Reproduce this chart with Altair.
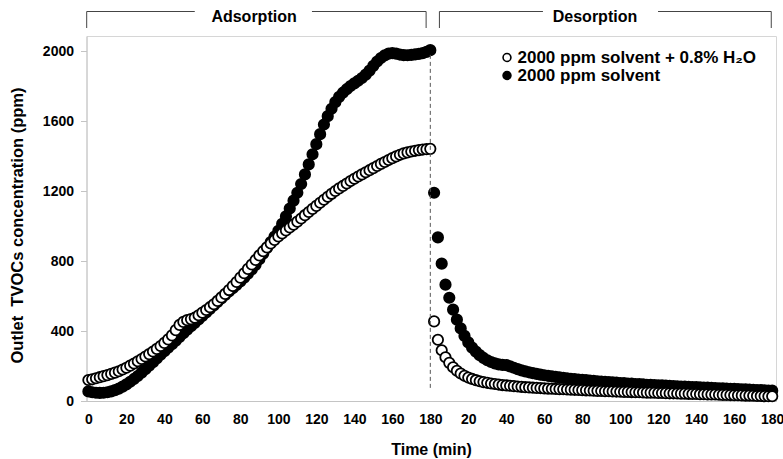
import altair as alt
import pandas as pd

# ---- data (ppm), sampled every 2 min ----
ads_time = list(range(0, 181, 2))      # adsorption 0..180 min
des_time = list(range(182, 361, 2))    # desorption (plotted after 180)

wet_ads = [120, 124, 130, 136, 142, 148, 155, 162, 170, 180,
           190, 202, 214, 227, 240, 254, 268, 283, 298, 314,
           332, 352, 375, 405, 435, 452, 462, 468, 476, 490,
           505, 520, 536, 553, 572, 592, 612, 634, 657, 680,
           705, 730, 755, 780, 806, 832, 856, 878, 900, 920,
           940, 958, 975, 992, 1008, 1025, 1043, 1062, 1080, 1098,
           1115, 1133, 1150, 1167, 1184, 1200, 1215, 1229, 1243, 1257,
           1270, 1283, 1295, 1307, 1319, 1331, 1343, 1355, 1366, 1377,
           1388, 1398, 1407, 1415, 1421, 1426, 1430, 1434, 1437, 1439,
           1441]

dry_ads = [55, 50, 47, 46, 47, 50, 55, 62, 71, 82,
           95, 110, 126, 143, 162, 182, 202, 222, 243, 264,
           285, 305, 325, 345, 366, 387, 407, 427, 446, 466,
           486, 506, 526, 546, 566, 586, 606, 626, 645, 664,
           684, 705, 728, 752, 778, 810, 842, 875, 908, 940,
           972, 1012, 1055, 1100, 1145, 1190, 1240, 1295, 1352, 1410,
           1468, 1525, 1580, 1628, 1670, 1708, 1738, 1762, 1782, 1800,
           1815, 1830, 1846, 1865, 1888, 1915, 1940, 1960, 1975, 1985,
           1988, 1985, 1980, 1977, 1976, 1978, 1981, 1984, 1988, 1995,
           2005]

wet_des = [455, 350, 290, 250, 218, 193, 173, 157, 144, 134,
           126, 119, 113, 108, 104, 100, 97, 94, 91, 89,
           87, 85, 83, 81, 79, 78, 76, 75, 74, 72,
           71, 70, 69, 68, 67, 66, 65, 64, 63, 62,
           61, 60, 59, 58, 57, 56, 56, 55, 54, 53,
           52, 52, 51, 50, 50, 49, 48, 48, 47, 46,
           46, 45, 44, 44, 43, 42, 42, 41, 40, 40,
           39, 39, 38, 37, 37, 36, 35, 35, 34, 33,
           33, 32, 31, 31, 30, 29, 29, 28, 27, 27]

dry_des = [1190, 935, 785, 665, 590, 522, 465, 415, 372, 335,
           305, 282, 262, 246, 233, 223, 215, 209, 206, 205,
           198, 190, 182, 175, 169, 164, 159, 155, 151, 147,
           144, 141, 138, 135, 132, 130, 127, 125, 123, 121,
           119, 117, 115, 113, 111, 110, 108, 106, 105, 103,
           102, 100, 99, 97, 96, 95, 93, 92, 91, 90,
           89, 88, 86, 85, 84, 83, 82, 81, 80, 79,
           78, 77, 76, 75, 74, 73, 72, 71, 70, 69,
           68, 67, 66, 65, 64, 63, 62, 61, 60, 59]

series_names = ["2000 ppm solvent + 0.8% H\u2082O", "2000 ppm solvent"]
x_ticks = list(range(0, 361, 20))
y_ticks = [0, 400, 800, 1200, 1600, 2000]

FONT = "Liberation Sans"

rows = []
for t, v in zip(ads_time + des_time, dry_ads + dry_des):
    rows.append({"t": t, "v": v, "series": series_names[1], "z": 0})
for t, v in zip(ads_time + des_time, wet_ads + wet_des):
    rows.append({"t": t, "v": v, "series": series_names[0], "z": 1})
df = pd.DataFrame(rows)

xscale = alt.Scale(domain=[-1, 362], nice=False, zero=False)
yscale = alt.Scale(domain=[0, 2086], nice=False, zero=False)

x_axis = alt.Axis(values=x_ticks,
                  labelExpr="datum.value > 180 ? datum.value - 180 : datum.value",
                  labelOverlap=False, labelFlush=False, labelSeparation=0,
                  title="Time (min)", ticks=False, labelPadding=11,
                  titleX=344.5, titleY=48, titleBaseline="middle")
y_axis = alt.Axis(values=y_ticks, format="d", labelOverlap=False,
                  title="Outlet\u00a0\u00a0TVOCs concentration (ppm)",
                  tickSize=6, labelPadding=7, titleFontSize=16.5,
                  titleX=-69, titleY=189, titleBaseline="middle",
                  titleAlign="center", titleAngle=270)

points = alt.Chart(df).mark_point(
    shape="circle", filled=True, size=108, stroke="black", strokeWidth=1.8, opacity=1
).encode(
    x=alt.X("t:Q", scale=xscale, axis=x_axis),
    y=alt.Y("v:Q", scale=yscale, axis=y_axis),
    fill=alt.Fill("series:N", scale=alt.Scale(domain=series_names, range=["white", "black"]),
                  legend=alt.Legend(orient="none", legendX=412, legendY=13, title=None,
                                    symbolType="circle", symbolSize=62,
                                    symbolStrokeColor="black", symbolStrokeWidth=1.6,
                                    labelFont=FONT, labelFontSize=17, labelFontWeight="bold",
                                    labelColor="black", labelOffset=2, labelLimit=0,
                                    rowPadding=0, padding=0)),
    order=alt.Order("z:Q"),
)

# dashed separator at the end of adsorption
sep = pd.DataFrame({"t": [180], "v0": [75], "v1": [1985]})
sep_rule = alt.Chart(sep).mark_rule(color="#555555", strokeWidth=1, strokeDash=[4, 3]).encode(
    x=alt.X("t:Q", scale=xscale, axis=x_axis),
    y=alt.Y("v0:Q", scale=yscale, axis=y_axis), y2="v1:Q"
)

# top brackets
seg = pd.DataFrame({"t": [-0.9, 117.7, 184.8, 299.9], "b": [56, 177.8, 239.3, 359.5]})
seg_rule = alt.Chart(seg).mark_rule(color="#444444", strokeWidth=1).encode(
    x=alt.X("t:Q", scale=xscale, axis=x_axis), x2="b:Q", y=alt.value(-24.5)
)
legs = pd.DataFrame({"t": [-0.9, 177.8, 184.8, 359.5]})
leg_rule = alt.Chart(legs).mark_rule(color="#444444", strokeWidth=1).encode(
    x=alt.X("t:Q", scale=xscale, axis=x_axis), y=alt.value(-24.5), y2=alt.value(-8)
)
labels = pd.DataFrame({"t": [87.2, 266.7], "txt": ["Adsorption", "Desorption"]})
lab_text = alt.Chart(labels).mark_text(
    font=FONT, fontSize=16, fontWeight="bold", color="black", align="center", baseline="middle"
).encode(x=alt.X("t:Q", scale=xscale, axis=x_axis), y=alt.value(-19), text="txt:N")

chart = alt.layer(points, sep_rule, seg_rule, leg_rule, lab_text).properties(
    width=689.5, height=365,
    autosize=alt.AutoSizeParams(type="none"),
    padding={"left": 86.5, "top": 36, "right": 7, "bottom": 58},
).configure_view(
    stroke="#d6d6d6", strokeWidth=1
).configure_axis(
    grid=False, labelFont=FONT, labelFontSize=14, labelFontWeight="bold", labelColor="black",
    titleFont=FONT, titleFontSize=16, titleFontWeight="bold", titleColor="black",
    domainColor="#c4c4c4", tickColor="#c4c4c4", labelOverlap=False
).configure_axisX(
    labelOverlap=False
)

chart.save("out.html", embed_options={"renderer": "svg", "actions": False})
